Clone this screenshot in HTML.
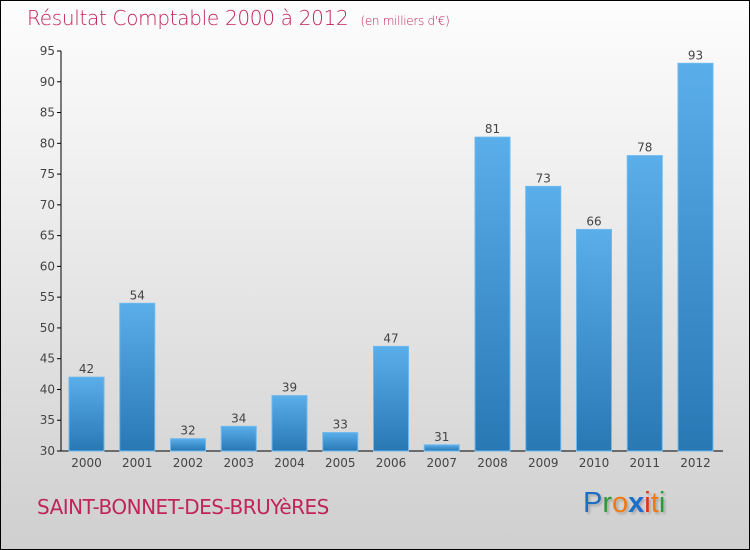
<!DOCTYPE html>
<html><head><meta charset="utf-8"><style>
body{margin:0;}
#wrap{position:relative;width:748px;height:548px;border:1px solid #000;background:linear-gradient(#fdfdfd,#f0f0f0 30%,#d6d6d6 85%,#cfcfcf);font-family:"DejaVu Sans","Liberation Sans",sans-serif;overflow:hidden}
</style></head><body>
<div id="wrap">
<div style="position:absolute;left:26px;top:5px;font-size:20px;color:#c0245a;font-weight:300;letter-spacing:-0.3px">Résultat Comptable 2000 à 2012 <span style="font-size:12px;margin-left:6px">(en milliers d'€)</span></div>
<svg id="chart" width="748" height="548" style="position:absolute;left:0;top:0">
<defs><linearGradient id="bg" x1="0" y1="0" x2="0" y2="1"><stop offset="0" stop-color="#5aaeea"/><stop offset="1" stop-color="#2878b4"/></linearGradient></defs>
</svg>
<div style="position:absolute;left:36px;top:494px;font-size:20px;color:#c0245a;letter-spacing:-0.5px">SAINT-BONNET-DES-BRUYèRES</div>
<div style="position:absolute;left:582px;top:486px;font-size:29px;font-family:'Liberation Sans',sans-serif;text-shadow:2px 2px 2px #aaa"><span style="color:#1a6fc8">P</span><span style="color:#2a9a3a">r</span><span style="color:#f07a10">o</span><span style="color:#1a6fc8;font-weight:bold">x</span><span style="color:#e03010">i</span><span style="color:#f07a10">t</span><span style="color:#2a9a3a">i</span></div>
</div>
<script>
const years=["2000","2001","2002","2003","2004","2005","2006","2007","2008","2009","2010","2011","2012"];
const values=[42,54,32,34,39,33,47,31,81,73,66,78,93];
const ticks=[30,35,40,45,50,55,60,65,70,75,80,85,90,95];
const svg=document.getElementById('chart');const NS='http://www.w3.org/2000/svg';
const y0=450,yMin=30,yMax=95,yTop=50;
function y(v){return y0-(v-yMin)/(yMax-yMin)*(y0-yTop);}
function x(i){return 85.5+i*50.75;}
function mk(t,a,txt){const e=document.createElementNS(NS,t);for(const k in a)e.setAttribute(k,a[k]);if(txt!==undefined)e.textContent=txt;svg.appendChild(e);return e;}
const ax=mk('line',{x1:60,y1:yTop,x2:60,y2:y0,stroke:'#000'});


const bx=mk('line',{x1:60,y1:y0,x2:722,y2:y0,stroke:'#000'});


ticks.forEach(t=>{
 const l=mk('line',{x1:56,y1:y(t),x2:60,y2:y(t),stroke:'#000'});
 
 
 const tx=mk('text',{x:54,y:y(t)+4,'text-anchor':'end','font-size':12,fill:'#444','font-family':'DejaVu Sans, sans-serif'},t);
 
 
});
values.forEach((v,i)=>{
 const r=mk('rect',{x:x(i)-17.5,y:y(v),width:35,height:y0-y(v),fill:'url(#bg)',stroke:'#6cb8f0','stroke-width':1});
 
 
 const vl=mk('text',{x:x(i),y:y(v)-4,'text-anchor':'middle','font-size':12,fill:'#444','font-family':'DejaVu Sans, sans-serif'},v);
 
 
 const yl=mk('text',{x:x(i),y:466,'text-anchor':'middle','font-size':12,fill:'#444','font-family':'DejaVu Sans, sans-serif'},years[i]);
 
 
});
</script>
</body></html>
